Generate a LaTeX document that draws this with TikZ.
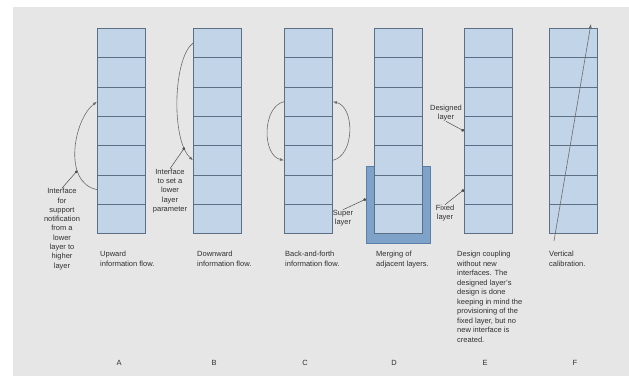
\documentclass[tikz,border=0pt]{standalone}
\usepackage{fontspec}
\setmainfont{Liberation Sans}
\usetikzlibrary{arrows.meta}
\definecolor{bggray}{HTML}{E6E6E6}
\definecolor{cellblue}{HTML}{C2D4E7}
\definecolor{cellline}{HTML}{5C6F85}
\definecolor{mergeblue}{HTML}{7FA2C8}
\definecolor{mergeline}{HTML}{5A80AA}
\definecolor{txtgray}{HTML}{303030}

\begin{document}
\begin{tikzpicture}[x=1pt,y=-1pt,
    layercell/.style={draw=cellline,fill=cellblue,line width=0.9pt,
      minimum width=48pt,minimum height=29.3pt,inner sep=0pt,anchor=north west},
    mergebox/.style={draw=mergeline,fill=mergeblue,line width=1pt,
      minimum width=64pt,minimum height=77pt,inner sep=0pt,anchor=north west},
    flowarc/.style={draw=gray!85!black,line width=0.6pt,-{Latex[length=4pt,width=3pt]}},
    pointer/.style={draw=black!70,line width=0.5pt,-{Circle[length=3pt]}},
    lbl/.style={font=\fontsize{7.5}{9.3}\selectfont,text=txtgray,align=center,inner sep=0pt},
    caption/.style={font=\fontsize{7.5}{9.5}\selectfont,text=txtgray,align=left,inner sep=0pt,anchor=north west},
    letter/.style={font=\fontsize{7.5}{9}\selectfont,text=txtgray,inner sep=0pt}]
  \useasboundingbox (0,0) rectangle (629,376);
  \fill[bggray] (13,7) rectangle (629,376);
  % merged box behind column D
  \node[mergebox] (merge) at (366,166) {};
  % the six layer stacks
  \foreach \col/\xl in {A/97,B/193,C/284,D/374,E/464,F/549}
    \foreach \r in {1,...,7}
      \node[layercell] (\col\r) at (\xl,{28+(\r-1)*29.3}) {};

  % A: upward flow
  \draw[flowarc] (A6.west) .. controls +(-35,-7) and +(-23,17) .. (A3.west)
    coordinate[pos=0.3] (Atip);
  \node[lbl] (ainfo) at (62,229) {Interface\\for\\support\\notification\\from a\\lower\\layer to\\higher\\layer};
  \draw[pointer] (ainfo.north) -- (Atip);

  % B: downward flow
  \draw[flowarc] (B1.west) .. controls +(-20,15) and +(-22,-20) .. (B5.west)
    coordinate[pos=0.85] (Btip);
  \node[lbl] (binfo) at (170,191) {Interface\\to set a\\lower\\layer\\parameter};
  \draw[pointer] (binfo.north) -- (Btip);

  % C: back and forth
  \draw[flowarc] (C3.west) .. controls +(-22,5) and +(-22,-5) .. (C5.west);
  \draw[flowarc] (C5.east) .. controls +(22,-5) and +(22,5) .. (C3.east);

  % D: merging
  \node[lbl] (super) at (343,218) {Super\\layer};
  \draw[pointer] (super.north) -- ([yshift=6pt]merge.west);

  % E: design coupling
  \node[lbl] (designed) at (446,113) {Designed\\layer};
  \draw[pointer] (designed.south) -- (E4.west);
  \node[lbl] (fixed) at (445,213) {Fixed\\layer};
  \draw[pointer] (fixed.north) -- (E6.west);

  % F: vertical calibration
  \coordinate (Fbot) at ([xshift=5pt,yshift=-7pt]F7.south west);
  \coordinate (Ftop) at ([xshift=-7pt,yshift=4pt]F1.north east);
  \draw[flowarc] (Fbot) -- (Ftop);

  % captions
  \node[caption] (capA) at (100,251) {Upward\\information flow.};
  \node[caption] (capB) at (197,251) {Downward\\information flow.};
  \node[caption] (capC) at (285,251) {Back-and-forth\\information flow.};
  \node[caption] (capD) at (376,251) {Merging of\\adjacent layers.};
  \node[caption] (capE) at (457,251) {Design coupling\\without new\\interfaces. The\\designed layer's\\design is done\\keeping in mind the\\provisioning of the\\fixed layer, but no\\new interface is\\created.};
  \node[caption] (capF) at (549,251) {Vertical\\calibration.};

  \foreach \col/\xc in {A/119,B/214,C/305,D/394,E/485,F/575}
    \node[letter] (let\col) at (\xc,363) {\col};
\end{tikzpicture}
\end{document}
